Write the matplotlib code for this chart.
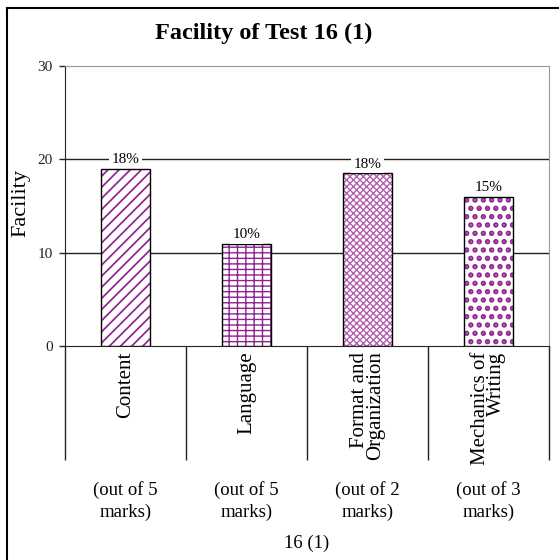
import matplotlib
matplotlib.use("Agg")
import matplotlib.pyplot as plt
from matplotlib.lines import Line2D

plt.rcParams['font.family'] = ['Liberation Serif', 'DejaVu Serif']

# data
categories = ["Content", "Language", "Format and\nOrganization", "Mechanics of\nWriting"]
marks = ["(out of 5\nmarks)", "(out of 5\nmarks)", "(out of 2\nmarks)", "(out of 3\nmarks)"]
facility = [19.0, 10.9, 18.5, 16.0]
pct_labels = ["18%", "10%", "18%", "15%"]
yticks = [0, 10, 20, 30]

purple = '#8E2490'
light_purple = '#B25FB0'
hatches = ['///', '++-', 'xxxxx', '..']
hatch_colors = [purple, purple, light_purple, purple]
hatch_widths = [1.25, 1.0, 1.0, 2.6]

W, H = 559, 560
fig = plt.figure(figsize=(W / 100, H / 100), dpi=100)
ax = fig.add_axes([65 / W, 1 - 346 / H, (549 - 65) / W, (346 - 66) / H])

x = list(range(len(categories)))
for i in x:
    with plt.rc_context({'hatch.linewidth': hatch_widths[i]}):
        ax.bar(i, facility[i], width=0.4, color='white', edgecolor=hatch_colors[i],
               hatch=hatches[i], linewidth=0, zorder=3)
    ax.bar(i, facility[i], width=0.4, fill=False, edgecolor='black',
           linewidth=1.0, zorder=4)
    ax.annotate(pct_labels[i], (i, facility[i]), xytext=(0, 2),
                textcoords='offset points', ha='center', va='bottom',
                fontsize=11, zorder=5,
                bbox=dict(boxstyle='square,pad=0.15', fc='white', ec='none'))

ax.set_xlim(-0.5, 3.5)
ax.set_ylim(0, 30)
ax.set_yticks(yticks)
ax.tick_params(axis='y', labelsize=11, length=4, width=1, pad=5,
               colors='#222222')
for y in yticks[1:3]:
    ax.axhline(y, color='#222222', linewidth=1, zorder=1)

# category separators as long minor ticks
ax.set_xticks([])
ax.set_xticks([-0.5, 0.5, 1.5, 2.5, 3.5], minor=True)
ax.tick_params(axis='x', which='minor', length=82, width=1, color='#222222')

for side in ['top', 'right']:
    ax.spines[side].set_color('#999999')
for side in ['left', 'bottom']:
    ax.spines[side].set_color('#222222')

tr = ax.get_xaxis_transform()
for i in x:
    ax.text(i, -0.02, categories[i], transform=tr, rotation=90, ha='center',
            va='top', multialignment='right', fontsize=15, linespacing=0.85)
    fig.text((65 + (549 - 65) * (i + 0.5) / 4) / W, 1 - 501 / H, marks[i],
             ha='center', va='center', fontsize=13.5, linespacing=1.3)

fig.text((65 + 549) / 2 / W, 1 - 543 / H, "16 (1)", ha='center',
         va='center', fontsize=13.5)
fig.text(21 / W, 1 - 203 / H, "Facility", rotation=90, ha='center',
         va='center', fontsize=16)
fig.text(264 / W, 1 - 33 / H, "Facility of Test 16 (1)", ha='center',
         va='center', fontsize=17.5, fontweight='bold')

# outer chart border (only top and left visible)
fig.add_artist(Line2D([7 / W, 1], [1 - 8 / H, 1 - 8 / H], color='black', linewidth=1.5))
fig.add_artist(Line2D([7 / W, 7 / W], [0, 1 - 8 / H], color='black', linewidth=1.5))

fig.savefig("out.png", dpi=100)
